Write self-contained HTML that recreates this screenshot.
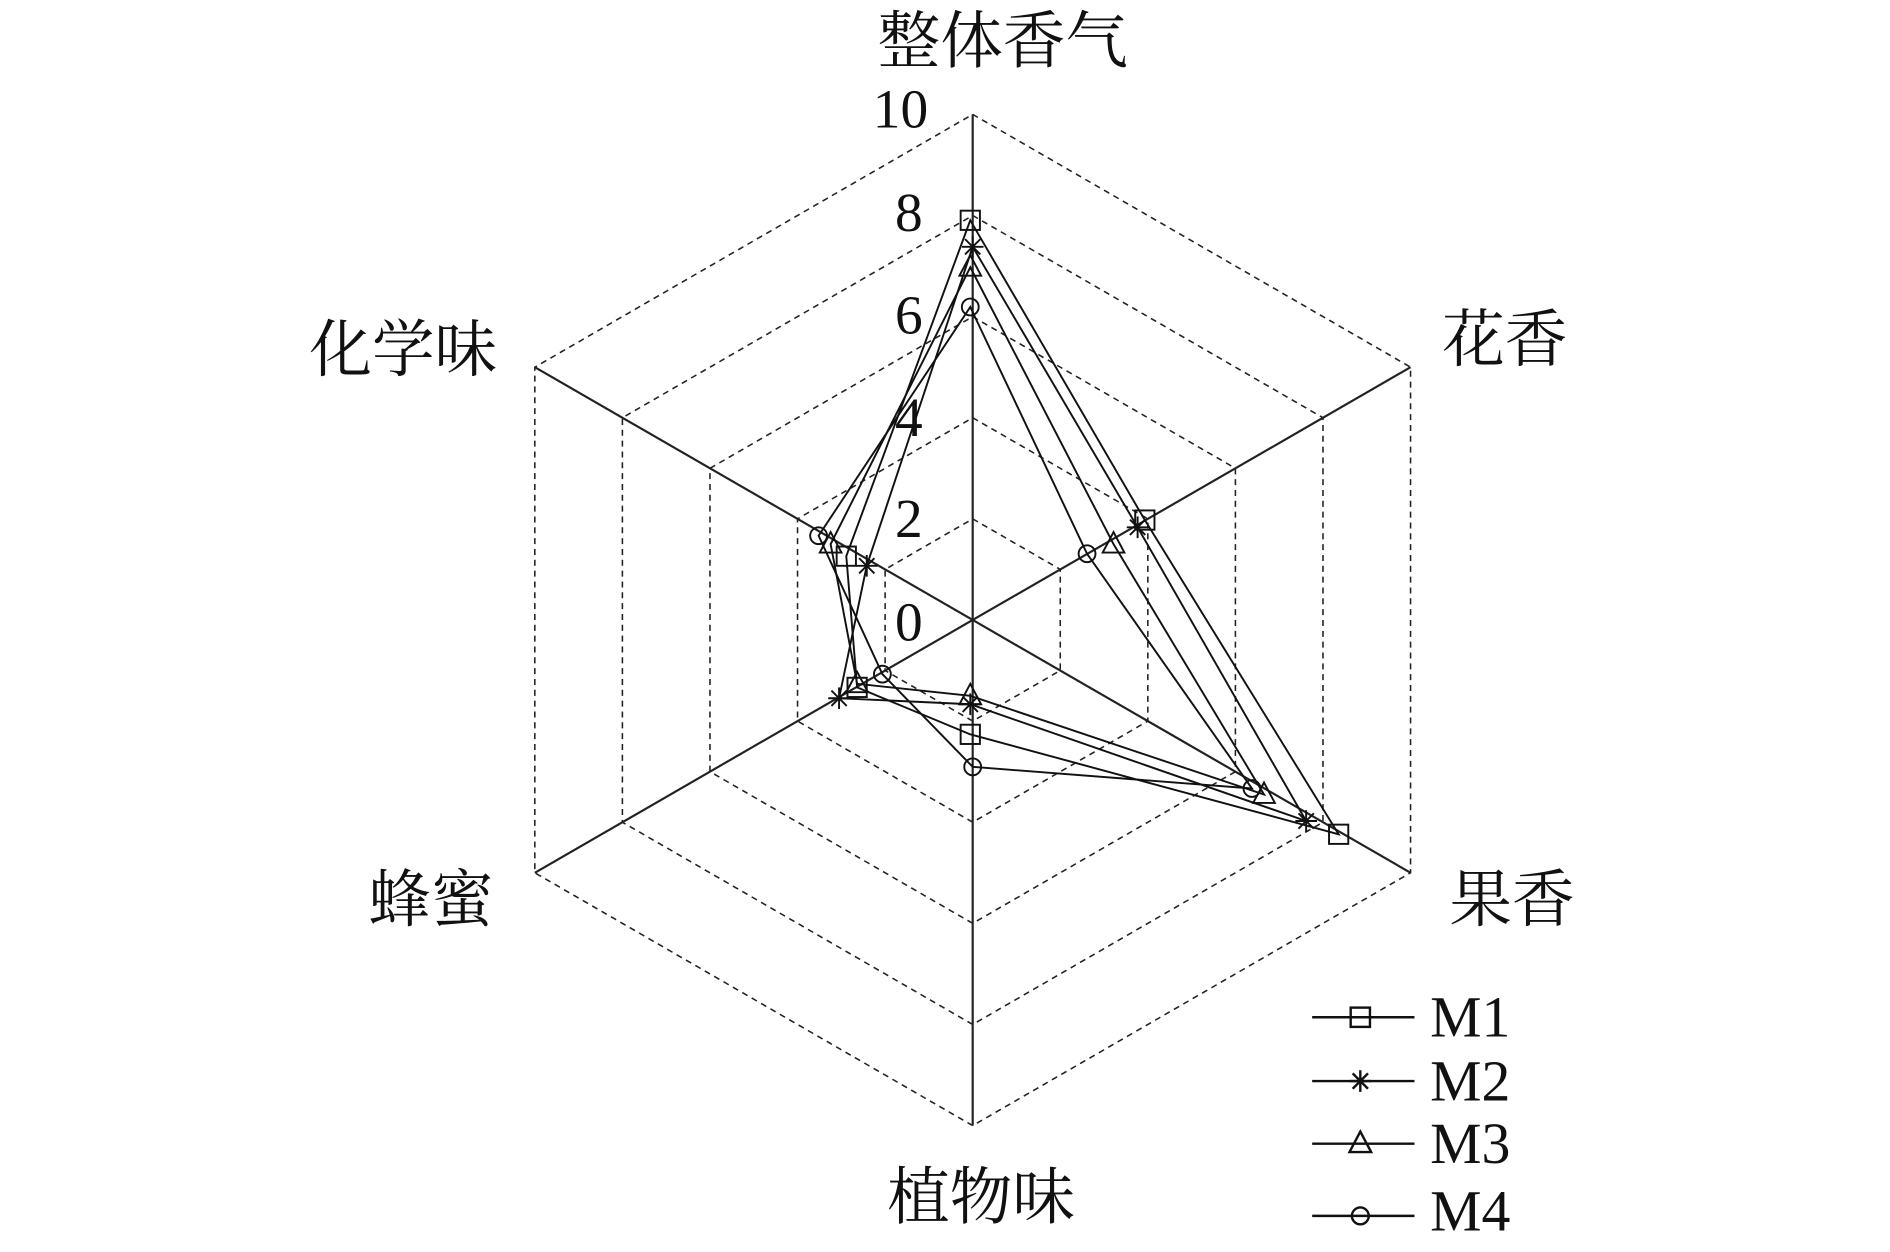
<!DOCTYPE html>
<html><head><meta charset="utf-8"><style>
html,body{margin:0;padding:0;background:#fff;}
svg{display:block}
text{font-family:"Liberation Serif","Noto Serif CJK SC","Noto Sans CJK SC",serif;fill:#111}
</style></head><body>
<svg id="s" width="1890" height="1252" viewBox="0 0 1570 1040" preserveAspectRatio="none" xmlns="http://www.w3.org/2000/svg">
<g id="grid" stroke="#222" fill="none"></g>
<g id="data" stroke="#111" stroke-width="1.6" fill="none"></g>
<g font-size="52">
<text x="833" y="52" text-anchor="middle">整体香气</text>
<text x="1250" y="300" text-anchor="middle">花香</text>
<text x="335" y="308" text-anchor="middle">化学味</text>
<text x="1256" y="765" text-anchor="middle">果香</text>
<text x="358" y="765" text-anchor="middle">蜂蜜</text>
<text x="815" y="1012" text-anchor="middle">植物味</text>
</g>
<g font-size="46" text-anchor="middle">
<text x="748" y="106">10</text>
<text x="755" y="192">8</text>
<text x="755" y="277">6</text>
<text x="755" y="362">4</text>
<text x="755" y="446">2</text>
<text x="755" y="532">0</text>
</g>
<g font-size="48">
<text x="1188" y="861">M1</text>
<text x="1188" y="914">M2</text>
<text x="1188" y="966">M3</text>
<text x="1188" y="1022">M4</text>
</g>
<g id="leg" stroke="#111" stroke-width="2" fill="none"></g>
</svg>
<script>
var ns="http://www.w3.org/2000/svg";
function el(p,t,a){var e=document.createElementNS(ns,t);for(var k in a)e.setAttribute(k,a[k]);p.appendChild(e);return e;}
var cx=808,cy=515,R=420;
var g=document.getElementById('grid');
var ang=[-90,-30,30,90,150,210];
function pt(r,i){var a=ang[i]*Math.PI/180;return [cx+r*Math.cos(a),cy+r*Math.sin(a)];}
for(var L=1;L<=5;L++){var ps=[];for(var i=0;i<6;i++){ps.push(pt(R*L/5,i).join(','));}
el(g,'polygon',{points:ps.join(' '),'stroke-dasharray':'5,4','stroke-width':1.3});}
for(var i=0;i<6;i++){var p=pt(R,i);el(g,'line',{x1:cx,y1:cy,x2:p[0],y2:p[1],'stroke-width':1.8});}
var D=[
[[806,183],[951,432],[1112,693],[806,610],[712,571],[703,462]],
[[808,205],[945,438],[1085,682],[806,585],[697,580],[720,470]],
[[806,222],[925,452],[1050,660],[806,578],[712,568],[690,452]],
[[806,255],[903,460],[1040,655],[808,637],[733,560],[680,445]]];
var d=document.getElementById('data');
function mark(p,x,y,k){
 if(k==0)el(p,'rect',{x:x-8,y:y-8,width:16,height:16,fill:'none'});
 else if(k==1){for(var a=0;a<4;a++){var t=a*Math.PI/4;el(p,'line',{x1:x-9*Math.cos(t),y1:y-9*Math.sin(t),x2:x+9*Math.cos(t),y2:y+9*Math.sin(t)});}}
 else if(k==2)el(p,'polygon',{points:(x)+','+(y-10)+' '+(x-9)+','+(y+7)+' '+(x+9)+','+(y+7),fill:'none'});
 else el(p,'circle',{cx:x,cy:y,r:7,fill:'none'});
}
D.forEach(function(s,k){el(d,'polygon',{points:s.map(function(q){return q.join(',')}).join(' ')});s.forEach(function(q){mark(d,q[0],q[1],k);});});
var lg=document.getElementById('leg');
[845,898,950,1010].forEach(function(y,k){el(lg,'line',{x1:1090,y1:y,x2:1175,y2:y});mark(lg,1130,y,k);});
</script>
</body></html>
